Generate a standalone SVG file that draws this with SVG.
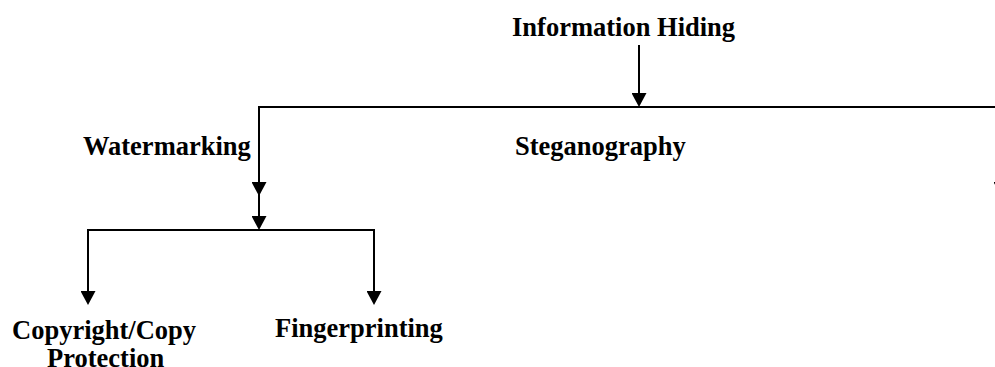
<svg xmlns="http://www.w3.org/2000/svg" width="995" height="367" viewBox="0 0 995 367">
  <defs>
    <!-- filled triangular arrowhead; tip sits 14px past the end of the line -->
    <marker id="arrow" markerUnits="userSpaceOnUse" markerWidth="14" markerHeight="15" refX="0" refY="7.5" orient="auto" viewBox="0 0 14 15">
      <path d="M0,0 L14,7.5 L0,15 Z" fill="#000"/>
    </marker>
    <style>
      .label { font-family: "Liberation Serif", "Times New Roman", serif; font-weight: bold; font-size: 26.5px; fill: #000; }
      .wire { fill: none; stroke: #000; stroke-width: 2; }
    </style>
  </defs>
  <rect width="995" height="367" fill="#fff"/>

  <g id="connectors">
    <!-- root to main bus -->
    <path class="wire" d="M639,45 V93" marker-end="url(#arrow)"/>
    <path class="wire" d="M259,107 H995"/>
    <!-- watermarking branch -->
    <path class="wire" d="M259,106 V182" marker-end="url(#arrow)"/>
    <path class="wire" d="M259,182 V216" marker-end="url(#arrow)"/>
    <!-- branch leaving the right edge -->
    <path class="wire" d="M1001,107 V182" marker-end="url(#arrow)"/>
    <!-- lower bus -->
    <path class="wire" d="M88,230 H374"/>
    <path class="wire" d="M88,229 V291" marker-end="url(#arrow)"/>
    <path class="wire" d="M374,229 V291" marker-end="url(#arrow)"/>
  </g>

  <g id="information-hiding">
    <text class="label" x="512" y="36">Information Hiding</text>
  </g>
  <g id="watermarking">
    <text class="label" x="83" y="155">Watermarking</text>
  </g>
  <g id="steganography">
    <text class="label" x="515" y="155">Steganography</text>
  </g>
  <g id="copyright-protection">
    <text class="label" x="12" y="339">Copyright/Copy</text>
    <text class="label" x="47" y="367">Protection</text>
  </g>
  <g id="fingerprinting">
    <text class="label" x="275" y="337">Fingerprinting</text>
  </g>
</svg>
